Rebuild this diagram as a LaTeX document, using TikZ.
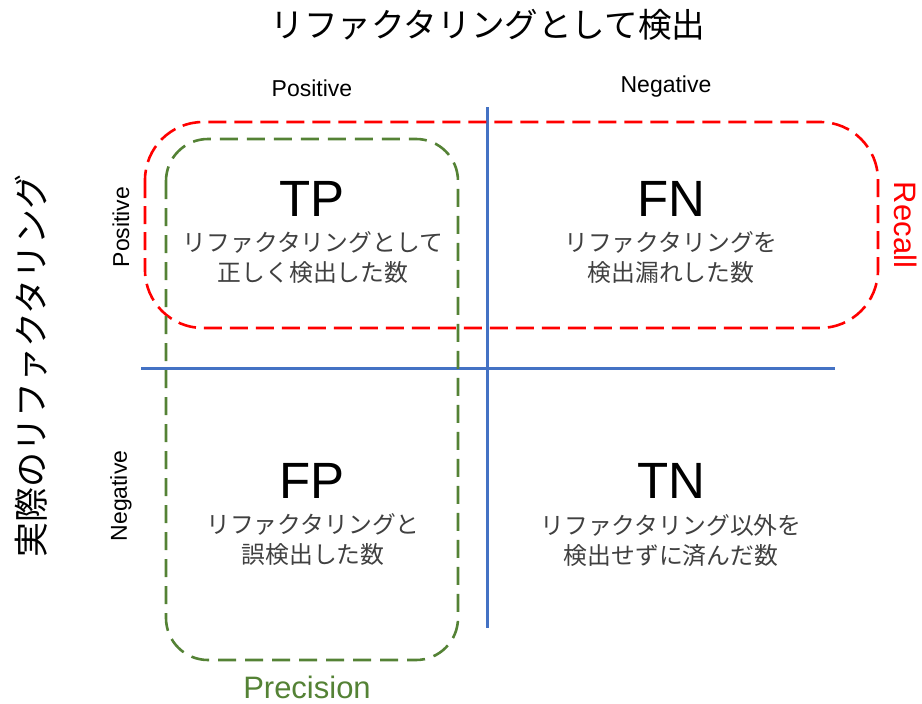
\documentclass[tikz,border=0pt]{standalone}
\usepackage{fontspec}
\setmainfont{Liberation Sans}
\newfontfamily\jp{Noto Sans CJK JP}
\definecolor{axisblue}{HTML}{4472C4}
\definecolor{recallred}{HTML}{FF0000}
\definecolor{precgreen}{HTML}{548235}
\definecolor{subgray}{HTML}{404040}
\begin{document}
\begin{tikzpicture}[x=1pt,y=-1pt,
  axisline/.style={draw=axisblue,line width=3pt},
  recallbox/.style={draw=recallred,line width=2.6pt,dash pattern=on 18pt off 8pt,rounded corners=58pt},
  precbox/.style={draw=precgreen,line width=2.6pt,dash pattern=on 18pt off 9pt,rounded corners=42pt},
  bigtitle/.style={font=\jp\fontsize{33.6}{40}\selectfont,inner sep=0pt},
  sidetitle/.style={font=\jp\fontsize{35}{40}\selectfont,inner sep=0pt},
  axislabel/.style={font=\fontsize{23}{27}\selectfont,inner sep=0pt},
  cellhead/.style={font=\fontsize{51}{60}\selectfont,inner sep=0pt},
  celltext/.style={font=\jp\fontsize{23.8}{30}\selectfont,text=subgray,align=center,inner sep=0pt},
  metric/.style={font=\fontsize{31}{36}\selectfont,inner sep=0pt}]
\useasboundingbox (0,0) rectangle (922,704);
% axes
\coordinate (vtop) at (487,107);
\coordinate (vbot) at (487,628);
\coordinate (hleft) at (141,368);
\coordinate (hright) at (835,368);
\draw[axisline] (vtop) -- (vbot);
\draw[axisline] (hleft) -- (hright);
% recall / precision boxes
\draw[recallbox] (145,122) rectangle (878,328);
\draw[precbox] (166,139) rectangle (458,660);
% titles
\node[bigtitle] (ttop) at (488,25) {リファクタリングとして検出};
\node[sidetitle,rotate=90] (tleft) at (31,366) {実際のリファクタリング};
\node[axislabel] (colpos) at (312,88) {Positive};
\node[axislabel] (colneg) at (666,87) {Negative};
\node[axislabel,rotate=90] (rowpos) at (121,227) {Positive};
\node[axislabel,rotate=90] (rowneg) at (121,496) {Negative};
% cells
\node[cellhead] (tp) at (312,199) {TP};
\node[celltext] (tptext) at (313,258) {リファクタリングとして\\正しく検出した数};
\node[cellhead] (fn) at (671,199) {FN};
\node[celltext] (fntext) at (671,258) {リファクタリングを\\検出漏れした数};
\node[cellhead] (fp) at (312,481) {FP};
\node[celltext] (fptext) at (313,540) {リファクタリングと\\誤検出した数};
\node[cellhead] (tn) at (671,481) {TN};
\node[celltext] (tntext) at (671,541) {リファクタリング以外を\\検出せずに済んだ数};
% metrics
\node[metric,text=recallred,rotate=-90] (recall) at (906,225) {Recall};
\node[metric,text=precgreen] (precision) at (307,687) {Precision};
\end{tikzpicture}
\end{document}
